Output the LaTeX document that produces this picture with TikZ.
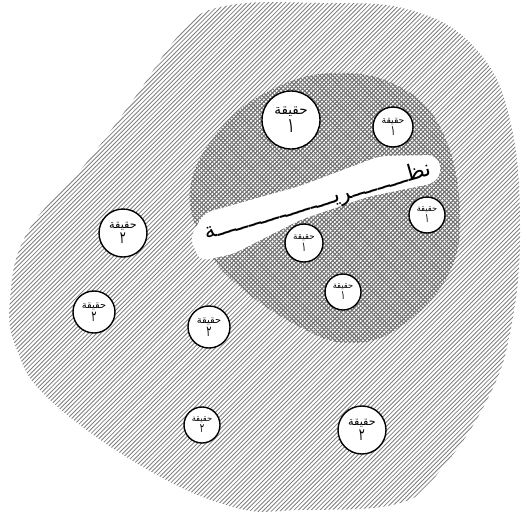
\documentclass[tikz,border=0pt]{standalone}
\usepackage{fontspec}
\newfontfamily\arabicfont[Script=Arabic]{DejaVu Sans}
\TeXXeTstate=1
\newcommand{\ar}[1]{\beginR #1\endR}
\newcommand{\longdigit}[1]{\scalebox{1}[1.5]{\ar{#1}}}
\begin{document}
\begin{tikzpicture}[x=1pt,y=-1pt,
  hatch/.style={line width=0.85pt, draw=black!50},
  xhatch/.style={line width=0.95pt, draw=black!55},
  fact/.style={circle, draw=black, line width=1.4pt, fill=white, inner sep=0pt, align=center},
]
\useasboundingbox (0,0) rectangle (526,511);
% outer hatched region
\begin{scope}
\clip plot[smooth cycle, tension=0.7] coordinates {(225,6) (320,3) (410,10) (475,48) (510,120) (520,233) (510,333) (487,400) (443,467) (400,503) (300,510) (233,507) (143,467) (50,400) (17,350) (10,300) (27,233) (83,167) (133,100) (182,32)};
\foreach \c in {0,4.3,...,1050} \draw[hatch] (\c,0) -- (\c-530,530);
\end{scope}
% inner cross-hatched region
\begin{scope}
\clip plot[smooth cycle, tension=0.7] coordinates {(333,73) (400,87) (443,133) (460,213) (447,277) (400,327) (350,343) (300,327) (240,287) (205,245) (190,190) (217,133) (267,92)};
\foreach \c in {0,4.3,...,1050} \draw[xhatch] (\c,0) -- (\c-530,530);
\foreach \c in {-530,-525.7,...,530} \draw[xhatch] (\c,0) -- (\c+530,530);
\end{scope}
% white band
\fill[white, rounded corners=8pt] (190,238) -- (204,213) -- (300,186) -- (380,156) -- (436,155) -- (442,170) -- (435,183) -- (367,197) -- (300,220) -- (233,254) -- (200,261) -- cycle;
\node[rotate=16, font=\arabicfont\fontsize{22}{22}\selectfont, inner sep=0pt] (theory) at (318,202) {\ar{نظـــــــــريـــــــــــــــــــة}};
% fact circles
\node[fact, minimum size=58pt, font=\arabicfont\fontsize{13.5}{18}\selectfont] (f1) at (291,120) {\ar{حقيقة}\\\longdigit{١}};
\node[fact, minimum size=40pt, font=\arabicfont\fontsize{9.3}{12.5}\selectfont] (f2) at (393,127) {\ar{حقيقة}\\\longdigit{١}};
\node[fact, minimum size=36pt, font=\arabicfont\fontsize{8.3}{11}\selectfont] (f3) at (427,215) {\ar{حقيقة}\\\longdigit{١}};
\node[fact, minimum size=38pt, font=\arabicfont\fontsize{8.8}{11.8}\selectfont] (f4) at (304,243) {\ar{حقيقة}\\\longdigit{١}};
\node[fact, minimum size=36pt, font=\arabicfont\fontsize{8.3}{11}\selectfont] (f5) at (343,292) {\ar{حقيقة}\\\longdigit{١}};
\node[fact, minimum size=48pt, font=\arabicfont\fontsize{11.2}{15}\selectfont] (f6) at (123,233) {\ar{حقيقة}\\\longdigit{٢}};
\node[fact, minimum size=42pt, font=\arabicfont\fontsize{9.8}{13}\selectfont] (f7) at (94,312) {\ar{حقيقة}\\\longdigit{٢}};
\node[fact, minimum size=42pt, font=\arabicfont\fontsize{9.8}{13}\selectfont] (f8) at (209,327) {\ar{حقيقة}\\\longdigit{٢}};
\node[fact, minimum size=36pt, font=\arabicfont\fontsize{8.3}{11}\selectfont] (f9) at (202,425) {\ar{حقيقة}\\\longdigit{٢}};
\node[fact, minimum size=48pt, font=\arabicfont\fontsize{11.2}{15}\selectfont] (f10) at (362,430) {\ar{حقيقة}\\\longdigit{٢}};
\end{tikzpicture}
\end{document}
